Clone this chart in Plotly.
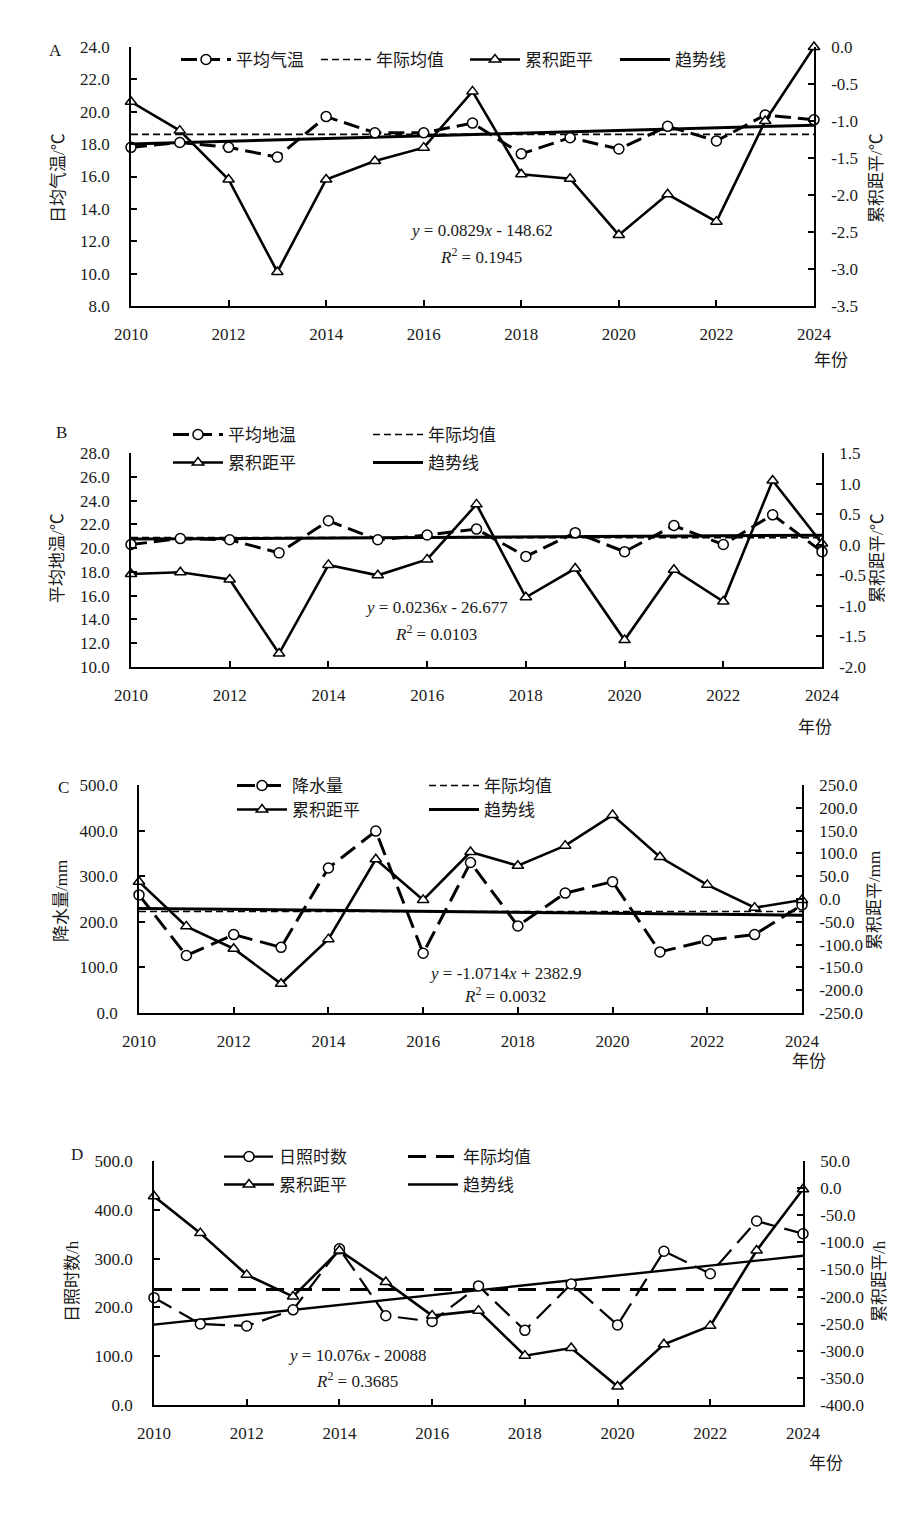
import plotly.graph_objects as go

W, H = 922, 1515
FONT = "Liberation Serif, Noto Sans CJK SC, serif"
INK = "#1a1a1a"
FS = 17

years = list(range(2010, 2025))
year_ticks = [2010, 2012, 2014, 2016, 2018, 2020, 2022, 2024]

# ---- Panel A: air temperature ----
air_temp = [17.8, 18.1, 17.8, 17.2, 19.7, 18.7, 18.7, 19.3, 17.4, 18.4, 17.7, 19.1, 18.2, 19.8, 19.5]
air_cum = [-0.74, -1.13, -1.79, -3.04, -1.79, -1.54, -1.36, -0.60, -1.72, -1.78, -2.54, -1.99, -2.36, -1.00, 0.0]
air_mean = 18.6
air_fit = (0.0829, -148.62)
air_lticks = [8.0, 10.0, 12.0, 14.0, 16.0, 18.0, 20.0, 22.0, 24.0]
air_rticks = [-3.5, -3.0, -2.5, -2.0, -1.5, -1.0, -0.5, 0.0]

# ---- Panel B: ground temperature ----
soil_temp = [20.3, 20.8, 20.7, 19.6, 22.3, 20.7, 21.1, 21.6, 19.3, 21.3, 19.7, 21.9, 20.3, 22.8, 19.7]
soil_cum = [-0.48, -0.45, -0.57, -1.78, -0.33, -0.50, -0.24, 0.66, -0.86, -0.39, -1.56, -0.41, -0.93, 1.05, 0.02]
soil_mean = 20.88
soil_fit = (0.0236, -26.677)
soil_lticks = [10.0, 12.0, 14.0, 16.0, 18.0, 20.0, 22.0, 24.0, 26.0, 28.0]
soil_rticks = [-2.0, -1.5, -1.0, -0.5, 0.0, 0.5, 1.0, 1.5]

# ---- Panel C: precipitation ----
precip = [259, 126, 172, 144, 318, 399, 131, 330, 191, 263, 288, 134, 159, 172, 237]
precip_cum = [38, -60, -109, -186, -88, 87, -2, 103, 73, 117, 184, 92, 31, -19, -2]
precip_mean = 222.6
precip_fit = (-1.0714, 2382.9)
precip_lticks = [0.0, 100.0, 200.0, 300.0, 400.0, 500.0]
precip_rticks = [-250.0, -200.0, -150.0, -100.0, -50.0, 0.0, 50.0, 100.0, 150.0, 200.0, 250.0]

# ---- Panel D: sunshine hours ----
sun = [220, 166, 162, 195, 320, 183, 171, 244, 153, 248, 164, 315, 269, 377, 351]
sun_cum = [-15, -83, -160, -200, -115, -173, -235, -226, -309, -295, -366, -288, -254, -115, -2]
sun_mean = 236.5
sun_fit = (10.076, -20088)
sun_lticks = [0.0, 100.0, 200.0, 300.0, 400.0, 500.0]
sun_rticks = [-400.0, -350.0, -300.0, -250.0, -200.0, -150.0, -100.0, -50.0, 0.0, 50.0]

panels = [
    dict(tag="A", box=(123, 806, 39, 298), series=air_temp, cum=air_cum, mean=air_mean, fit=air_fit,
         name="平均气温", lrange=(8, 24), lticks=air_lticks, rrange=(-3.5, 0), rticks=air_rticks,
         ltitle="日均气温/℃", rtitle="累积距平/℃",
         eq="<i>y</i> = 0.0829<i>x</i> - 148.62", r2="<i>R</i><sup>2</sup> = 0.1945",
         eqpos=(473, 223, 248), letter=(47, 42), year_lbl=(823, 352),
         ltitle_pos=(50, 170), rtitle_pos=(868, 170),
         legend=[(176, 52), (316, 52), (465, 52), (615, 52)],
         sdash="16px,7px", swidth=3, mdash="7px,4px", mwidth=1.6, twidth=3),
    dict(tag="B", box=(123, 814, 445, 659), series=soil_temp, cum=soil_cum, mean=soil_mean, fit=soil_fit,
         name="平均地温", lrange=(10, 28), lticks=soil_lticks, rrange=(-2, 1.5), rticks=soil_rticks,
         ltitle="平均地温/℃", rtitle="累积距平/℃",
         eq="<i>y</i> = 0.0236<i>x</i> - 26.677", r2="<i>R</i><sup>2</sup> = 0.0103",
         eqpos=(428, 599, 625), letter=(53, 425), year_lbl=(807, 719),
         ltitle_pos=(50, 550), rtitle_pos=(870, 550),
         legend=[(168, 427), (368, 427), (168, 455), (368, 455)],
         sdash="16px,7px", swidth=3, mdash="7px,4px", mwidth=1.6, twidth=3),
    dict(tag="C", box=(131, 794, 777, 1005), series=precip, cum=precip_cum, mean=precip_mean, fit=precip_fit,
         name="降水量", lrange=(0, 500), lticks=precip_lticks, rrange=(-250, 250), rticks=precip_rticks,
         ltitle="降水量/mm", rtitle="累积距平/mm",
         eq="<i>y</i> = -1.0714<i>x</i> + 2382.9", r2="<i>R</i><sup>2</sup> = 0.0032",
         eqpos=(497, 965, 987), letter=(55, 779), year_lbl=(801, 1053),
         ltitle_pos=(53, 893), rtitle_pos=(866, 893),
         legend=[(232, 778), (424, 778), (232, 802), (424, 802)],
         sdash="18px,8px", swidth=3, mdash="7px,4px", mwidth=1.6, twidth=3),
    dict(tag="D", box=(146, 795, 1153, 1397), series=sun, cum=sun_cum, mean=sun_mean, fit=sun_fit,
         name="日照时数", lrange=(0, 500), lticks=sun_lticks, rrange=(-400, 50), rticks=sun_rticks,
         ltitle="日照时数/h", rtitle="累积距平/h",
         eq="<i>y</i> = 10.076<i>x</i> - 20088", r2="<i>R</i><sup>2</sup> = 0.3685",
         eqpos=(349, 1347, 1372), letter=(69, 1146), year_lbl=(818, 1455),
         ltitle_pos=(64, 1273), rtitle_pos=(871, 1273),
         legend=[(219, 1149), (403, 1149), (219, 1177), (403, 1177)],
         sdash="20px,9px", swidth=2.2, mdash="18px,10px", mwidth=3, twidth=2.4),
]

fig = go.Figure()
layout = dict(
    template="none",
    width=W, height=H, margin=dict(l=0, r=0, t=0, b=0, autoexpand=False),
    paper_bgcolor="white", plot_bgcolor="white",
    font=dict(family=FONT, size=FS, color=INK),
    showlegend=True,
)
annotations = []

def px(x):
    return x / W

def py(y):
    return 1 - y / H

def labels(vals):
    return [f"{v:.1f}" for v in vals]

axis_common = dict(showline=True, linecolor="black", linewidth=1.5, ticks="inside", ticklen=6,
                   tickwidth=1.5, tickcolor="black", showgrid=False, zeroline=False,
                   automargin=False, tickfont=dict(family=FONT, size=FS, color=INK))

leg_idx = 0
for i, p in enumerate(panels):
    n = i + 1
    xa = "x" if n == 1 else f"x{n}"
    yl_num = 2 * i + 1
    yr_num = 2 * i + 2
    yl = "y" if yl_num == 1 else f"y{yl_num}"
    yr = f"y{yr_num}"
    l, r, t, b = p["box"]
    xkey = "xaxis" if n == 1 else f"xaxis{n}"
    ylkey = "yaxis" if yl_num == 1 else f"yaxis{yl_num}"
    yrkey = f"yaxis{yr_num}"
    layout[xkey] = dict(axis_common, domain=[px(l), px(r)], anchor=yl, range=[2010, 2024],
                        tickmode="array", tickvals=year_ticks, ticktext=[str(v) for v in year_ticks],
                        ticklabelstandoff=12)
    layout[ylkey] = dict(axis_common, domain=[py(b), py(t)], anchor=xa, range=list(p["lrange"]),
                         tickmode="array", tickvals=p["lticks"], ticktext=labels(p["lticks"]),
                         ticklabelstandoff=16)
    layout[yrkey] = dict(axis_common, domain=[py(b), py(t)], anchor=xa, overlaying=yl, side="right",
                         range=list(p["rrange"]), tickmode="array", tickvals=p["rticks"],
                         ticktext=labels(p["rticks"]), ticklabelstandoff=12)

    legs = []
    for k in range(4):
        leg_idx += 1
        legs.append("legend" if leg_idx == 1 else f"legend{leg_idx}")

    slope, icpt = p["fit"]
    xs = [years[0], years[-1]]
    fig.add_trace(go.Scatter(x=xs, y=[p["mean"]] * 2, mode="lines", xaxis=xa, yaxis=yl,
                             name="年际均值", legend=legs[1],
                             line=dict(color="black", width=p["mwidth"], dash=p["mdash"])))
    fig.add_trace(go.Scatter(x=xs, y=[slope * v + icpt for v in xs], mode="lines", xaxis=xa, yaxis=yl,
                             name="趋势线", legend=legs[3],
                             line=dict(color="black", width=p["twidth"])))
    fig.add_trace(go.Scatter(x=years, y=p["series"], mode="lines+markers", xaxis=xa, yaxis=yl,
                             name=p["name"], legend=legs[0], cliponaxis=False,
                             line=dict(color="black", width=p["swidth"], dash=p["sdash"]),
                             marker=dict(symbol="circle", size=10, color="white",
                                         line=dict(color="black", width=1.5))))
    fig.add_trace(go.Scatter(x=years, y=p["cum"], mode="lines+markers", xaxis=xa, yaxis=yr,
                             name="累积距平", legend=legs[2], cliponaxis=False,
                             line=dict(color="black", width=2.6),
                             marker=dict(symbol="triangle-up", size=10, color="white",
                                         line=dict(color="black", width=1.5))))

    for k, (lx, ly) in enumerate(p["legend"]):
        layout[legs[k]] = dict(x=px(lx - 8), y=py(ly), xanchor="left", yanchor="middle",
                               bgcolor="rgba(0,0,0,0)", itemwidth=50,
                               font=dict(family=FONT, size=FS, color=INK))

    ex, ey1, ey2 = p["eqpos"]
    tf = dict(family=FONT, size=FS, color=INK)
    annotations += [
        dict(x=px(ex), y=py(ey1), xref="paper", yref="paper", text=p["eq"], showarrow=False,
             xanchor="center", yanchor="middle", font=tf),
        dict(x=px(ex), y=py(ey2), xref="paper", yref="paper", text=p["r2"], showarrow=False,
             xanchor="center", yanchor="middle", font=tf),
        dict(x=px(p["letter"][0]), y=py(p["letter"][1]), xref="paper", yref="paper", text=p["tag"],
             showarrow=False, xanchor="center", yanchor="middle", font=tf),
        dict(x=px(p["year_lbl"][0]), y=py(p["year_lbl"][1]), xref="paper", yref="paper", text="年份",
             showarrow=False, xanchor="center", yanchor="middle", font=tf),
        dict(x=px(p["ltitle_pos"][0]), y=py(p["ltitle_pos"][1]), xref="paper", yref="paper",
             text=p["ltitle"], textangle=-90, showarrow=False, xanchor="center", yanchor="middle", font=tf),
        dict(x=px(p["rtitle_pos"][0]), y=py(p["rtitle_pos"][1]), xref="paper", yref="paper",
             text=p["rtitle"], textangle=-90, showarrow=False, xanchor="center", yanchor="middle", font=tf),
    ]

layout["annotations"] = annotations
fig.update_layout(**layout)
fig.write_html("out.html")
